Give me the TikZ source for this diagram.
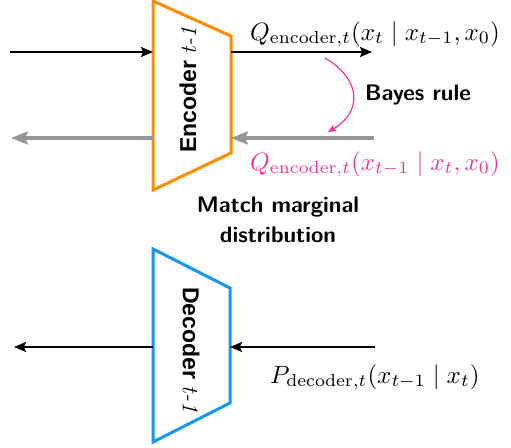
\documentclass[tikz,border=0pt]{standalone}
\usepackage{fontspec}
\usepackage{graphicx}
\usetikzlibrary{arrows.meta}
\newfontfamily\labfont{Liberation Sans}
\definecolor{encorange}{RGB}{255,140,0}
\definecolor{decblue}{RGB}{20,150,245}
\definecolor{flowgray}{RGB}{150,150,150}
\definecolor{bayespink}{RGB}{245,50,150}
\newcommand{\bigmath}[1]{\scalebox{2.5}{$#1$}}
\begin{document}
\begin{tikzpicture}[x=1pt,y=-1pt,
  blockline/.style={line width=3pt,line join=miter,fill=white},
  blkarrow/.style={line width=1.6pt,-{Stealth[length=12pt,width=10pt,inset=2pt]}},
  grayarrow/.style={line width=4pt,flowgray,-{Stealth[length=17pt,width=13pt,inset=3pt]}},
  eqlabel/.style={font=\fontsize{10}{12}\selectfont,inner sep=0pt,anchor=base west},
  boldlabel/.style={font=\sffamily\bfseries\fontsize{22.5}{30}\selectfont,inner sep=0pt,align=center},
  blocktext/.style={inner sep=0pt,font=\labfont\bfseries\fontsize{23}{26}\selectfont}]
\useasboundingbox (0,0) rectangle (511,447);
% encoder
\draw[blockline,draw=encorange] (153,1) -- (231,36) -- (231,153) -- (153,190) -- cycle;
\node[blocktext,rotate=90] (enc) at (188,90) {Encoder {\normalfont\itshape t-1}};
\coordinate (encInTop) at (153,52);
\coordinate (encOutTop) at (231,52);
\coordinate (encInBot) at (231,138);
\coordinate (encOutBot) at (153,138);
\coordinate (srcTop) at (10,52);
\coordinate (dstTop) at (372,52);
\coordinate (srcBot) at (374,138);
\coordinate (dstBot) at (11,138);
\draw[blkarrow] (srcTop) -- (encInTop);
\draw[blkarrow] (encOutTop) -- (dstTop);
\draw[grayarrow] (srcBot) -- (encInBot);
\draw[grayarrow] (encOutBot) -- (dstBot);
\node[eqlabel] (qfwd) at (250,40) {\bigmath{Q_{\mathrm{encoder},t}(x_t \mid x_{t-1}, x_0)}};
\node[eqlabel,text=bayespink] (qbwd) at (250,170) {\bigmath{Q_{\mathrm{encoder},t}(x_{t-1} \mid x_t, x_0)}};
\coordinate (bayesA) at (325,58);
\coordinate (bayesB) at (328,132);
\draw[bayespink,line width=1.2pt,-{Stealth[length=8pt,width=7pt,inset=1.5pt]}] (bayesA) .. controls (362,80) and (362,112) .. (bayesB);
\node[boldlabel] (bayes) at (418,95) {Bayes rule};
\node[boldlabel] (match) at (278,220) {Match marginal\\distribution};
% decoder
\draw[blockline,draw=decblue] (153,249) -- (230,288) -- (230,403) -- (153,442) -- cycle;
\node[blocktext,rotate=-90] (dec) at (191,350) {Decoder {\normalfont\itshape t-1}};
\coordinate (decIn) at (230,347);
\coordinate (decOut) at (153,347);
\coordinate (srcDec) at (375,347);
\coordinate (dstDec) at (14,347);
\draw[blkarrow] (srcDec) -- (decIn);
\draw[blkarrow] (decOut) -- (dstDec);
\node[eqlabel] (pdec) at (270,383) {\bigmath{P_{\mathrm{decoder},t}(x_{t-1} \mid x_t)}};
\end{tikzpicture}
\end{document}
